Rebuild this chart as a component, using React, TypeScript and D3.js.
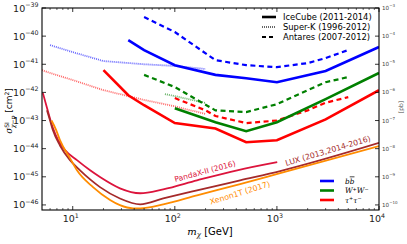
import React from 'react';
import * as d3 from 'd3';

type P = [number, number];

// ---------- indirect detection limits (mass GeV, sigma cm^2) ----------
const icecubeBB: P[] = [[35, 7.2e-41], [50, 3.2e-41], [100, 9.3e-42], [250, 4.2e-42], [500, 3.2e-42], [1000, 2.3e-42], [3000, 5.8e-42], [10000, 4.1e-41]];
const icecubeWW: P[] = [[100, 2.75e-43], [250, 8.7e-44], [500, 4.2e-44], [1000, 8.7e-44], [3000, 5.8e-43], [10000, 4.9e-42]];
const icecubeTT: P[] = [[20, 6.2e-42], [35, 7.9e-43], [50, 3.5e-43], [100, 8.1e-44], [250, 5.2e-44], [500, 1.7e-44], [1000, 2.0e-44], [3000, 1.1e-43], [10000, 1.2e-42]];

const superkBB: P[] = [[6, 4.8e-41], [10, 2.7e-41], [20, 1.3e-41], [50, 1.0e-41], [100, 8.7e-42], [200, 6.8e-42]];
const superkWW: P[] = [[80, 8.7e-43], [100, 7.4e-43], [200, 4.2e-43]];
const superkTT: P[] = [[5, 6.2e-42], [6, 4.9e-42], [10, 2.75e-42], [20, 1.2e-42], [50, 5.4e-43], [100, 3.2e-43], [200, 1.7e-43]];

const antaresBB: P[] = [[50, 4.8e-40], [100, 1.4e-40], [250, 1.4e-41], [500, 9.3e-42], [1000, 7.9e-42], [2000, 1.1e-41], [3000, 1.66e-41], [5000, 3.2e-41]];
const antaresWW: P[] = [[50, 4.2e-42], [100, 1.55e-42], [250, 2.3e-43], [500, 2.0e-43], [1000, 3.8e-43], [2000, 1.2e-42], [3000, 2.3e-42], [5000, 3.5e-42]];
const antaresTT: P[] = [[100, 6.3e-43], [200, 2.3e-43], [250, 1.45e-43], [500, 8.1e-44], [1000, 1.0e-43], [2000, 2.3e-43], [3000, 4.3e-43], [5000, 6.8e-43]];

// ---------- direct detection limits ----------
const pandaX: P[] = [[5.1, 9.5e-43], [5.6, 2.8e-43], [6.4, 5.4e-44], [7.2, 2.0e-44], [8.4, 8.9e-45], [11, 3.9e-45], [14.8, 1.7e-45], [18.5, 9.8e-46], [29, 3.9e-46], [45.7, 2.6e-46], [77, 3.6e-46], [165, 7.5e-46], [408, 1.7e-45], [1007, 3.3e-45]];
const lux: P[] = [[5.6, 2.3e-43], [6.0, 1.0e-43], [6.4, 4.5e-44], [7.5, 1.3e-44], [9.4, 3.9e-45], [11.8, 1.7e-45], [14.8, 8.1e-46], [18.5, 4.3e-46], [29, 1.7e-46], [45.7, 1.05e-46], [77, 1.7e-46], [165, 3.3e-46], [436, 7.5e-46], [1077, 1.6e-45], [10000, 1.6e-44]];
const xenon1T: P[] = [[6.2, 1.0e-43], [6.9, 4.5e-44], [7.5, 2.0e-44], [9.4, 4.6e-45], [11, 1.7e-45], [15.8, 4.3e-46], [23.2, 1.5e-46], [29, 9.8e-47], [39, 7.6e-47], [45.7, 7.6e-47], [77, 1.05e-46], [165, 2.2e-46], [436, 5.5e-46], [1077, 1.35e-45], [10000, 1.23e-44]];

const xMajor = [10, 100, 1000, 10000];
const xMajorExp = ['1', '2', '3', '4'];
const yMajorExp = [-39, -40, -41, -42, -43, -44, -45, -46];
const yRightExp = [-3, -4, -5, -6, -7, -8, -9, -10];

const BLUE = '#0000ff';
const GREEN = '#008000';
const RED = '#ff0000';
const CRIMSON = '#dc143c';
const BROWN = '#a52a2a';
const ORANGE = '#ff8c00';

const FONT = 'DejaVu Sans, sans-serif';
const SERIF = 'DejaVu Serif, serif';

export default function App() {
  const L = 42, R = 379, T = 8, B = 210;
  const x = d3.scaleLog().domain([5, 1e4]).range([L, R]);
  const y = d3.scaleLog().domain([Math.pow(10, -46.18), 1e-39]).range([B, T]);
  const lin = d3.line<P>().x(d => x(d[0])).y(d => y(d[1]));
  const smooth = d3.line<P>().x(d => x(d[0])).y(d => y(d[1])).curve(d3.curveMonotoneX);

  const minors: number[] = [];
  for (const dec of [1, 10, 100, 1000]) {
    for (let k = 2; k <= 9; k++) {
      const v = k * dec;
      if (v > 5 && v < 1e4) minors.push(v);
    }
  }

  const solid = { fill: 'none', strokeWidth: 2.6 };
  const dashed = { fill: 'none', strokeWidth: 2.2, strokeDasharray: '5,3.5' };
  const dotted = { fill: 'none', strokeWidth: 1.8, strokeDasharray: '1,1', strokeOpacity: 0.6 };

  return (
    <svg width={407} height={244} style={{ position: 'absolute', left: 0, top: 0, background: '#fff' }} fontFamily={FONT}>
      <defs>
        <clipPath id="plot"><rect x={L} y={T} width={R - L} height={B - T} /></clipPath>
      </defs>
      <rect x={0} y={0} width={407} height={244} fill="#fff" />
      <g clipPath="url(#plot)">
        {/* direct detection */}
        <path d={smooth(pandaX)!} stroke={CRIMSON} strokeWidth={1.8} fill="none" />
        <path d={smooth(lux)!} stroke={BROWN} strokeWidth={1.8} fill="none" />
        <path d={smooth(xenon1T)!} stroke={ORANGE} strokeWidth={1.8} fill="none" />
        {/* Super-K */}
        <path d={lin(superkBB)!} stroke={BLUE} {...dotted} />
        <path d={lin(superkWW)!} stroke={GREEN} {...dotted} />
        <path d={lin(superkTT)!} stroke={RED} {...dotted} />
        {/* Antares */}
        <path d={lin(antaresBB)!} stroke={BLUE} {...dashed} />
        <path d={lin(antaresWW)!} stroke={GREEN} {...dashed} />
        <path d={lin(antaresTT)!} stroke={RED} {...dashed} />
        {/* IceCube */}
        <path d={lin(icecubeBB)!} stroke={BLUE} {...solid} />
        <path d={lin(icecubeWW)!} stroke={GREEN} {...solid} />
        <path d={lin(icecubeTT)!} stroke={RED} {...solid} />
      </g>

      {/* curve labels */}
      <text transform="translate(205,171.5) rotate(-15)" textAnchor="middle" dominantBaseline="central" fontSize={7.6} fill={CRIMSON}>PandaX-II (2016)</text>
      <text transform="translate(240,193) rotate(-17)" textAnchor="middle" dominantBaseline="central" fontSize={7.8} fill={ORANGE}>Xenon1T (2017)</text>
      <text transform="translate(328,151) rotate(-16.5)" textAnchor="middle" dominantBaseline="central" fontSize={7.8} fill={BROWN}>LUX (2013,2014-2016)</text>

      {/* legend: experiments */}
      {[['IceCube (2011-2014)', 'solid'], ['Super-K (1996-2012)', 'dotted'], ['Antares (2007-2012)', 'dashed']].map((e, i) => {
        const yy = 17 + i * 10;
        const st = e[1] === 'solid' ? { strokeWidth: 2.6 } : e[1] === 'dotted' ? { strokeWidth: 1.8, strokeDasharray: '1,1', strokeOpacity: 0.6 } : { strokeWidth: 2.2, strokeDasharray: '4,3' };
        return (
          <g key={i}>
            <line x1={262} x2={276} y1={yy} y2={yy} stroke="#000" {...st} />
            <text x={283} y={yy} dominantBaseline="central" fontSize={8.4}>{e[0]}</text>
          </g>
        );
      })}

      {/* legend: channels */}
      {[BLUE, GREEN, RED].map((c, i) => (
        <line key={i} x1={320} x2={334} y1={181 + i * 9.5} y2={181 + i * 9.5} stroke={c} strokeWidth={2.6} />
      ))}
      <text x={345} y={183.5} fontSize={7.4} fontFamily={SERIF} fontStyle="italic">b<tspan style={{ textDecoration: 'overline' }}>b</tspan></text>
      <text x={345} y={193} fontSize={7.4} fontFamily={SERIF} fontStyle="italic">W<tspan dy={-2.5} fontSize={5}>+</tspan><tspan dy={2.5}>W</tspan><tspan dy={-2.5} fontSize={5}>−</tspan></text>
      <text x={345} y={202.5} fontSize={7.4} fontFamily={SERIF} fontStyle="italic">τ<tspan dy={-2.5} fontSize={5}>+</tspan><tspan dy={2.5}>τ</tspan><tspan dy={-2.5} fontSize={5}>−</tspan></text>

      {/* frame */}
      <rect x={L} y={T} width={R - L} height={B - T} fill="none" stroke="#000" strokeWidth={1.1} />

      {/* x ticks */}
      {xMajor.map((v, i) => (
        <g key={'xm' + i}>
          <line x1={x(v)} x2={x(v)} y1={B} y2={B - 4} stroke="#000" strokeWidth={0.8} />
          <line x1={x(v)} x2={x(v)} y1={T} y2={T + 4} stroke="#000" strokeWidth={0.8} />
          <text x={x(v) - 2} y={222} textAnchor="middle" fontSize={9.5} fill="#222">10<tspan dy={-4} fontSize={6.3}>{xMajorExp[i]}</tspan></text>
        </g>
      ))}
      {minors.map((v, i) => (
        <g key={'xn' + i}>
          <line x1={x(v)} x2={x(v)} y1={B} y2={B - 2} stroke="#000" strokeWidth={0.6} />
          <line x1={x(v)} x2={x(v)} y1={T} y2={T + 2} stroke="#000" strokeWidth={0.6} />
        </g>
      ))}

      {/* y ticks left */}
      {yMajorExp.map((e, i) => {
        const yy = y(Math.pow(10, e));
        return (
          <g key={'y' + i}>
            <line x1={L} x2={L + 4} y1={yy} y2={yy} stroke="#000" strokeWidth={0.8} />
            <line x1={R} x2={R - 4} y1={yy} y2={yy} stroke="#000" strokeWidth={0.8} />
            <text x={38.5} y={yy + 3.5} textAnchor="end" fontSize={9.5} fill="#222">10<tspan dy={-4.5} fontSize={6.3}>{'−' + Math.abs(e)}</tspan></text>
            <text x={382} y={yy + 2} textAnchor="start" fontSize={5.6} fill="#444">10<tspan dy={-3} fontSize={4}>{'−' + Math.abs(yRightExp[i])}</tspan></text>
          </g>
        );
      })}

      {/* axis labels */}
      <text x={210} y={235} textAnchor="middle" fontSize={10}>
        <tspan fontFamily={SERIF} fontStyle="italic">m</tspan><tspan fontFamily={SERIF} fontStyle="italic" fontSize={7} dy={2}>χ</tspan><tspan dy={-2}> [GeV]</tspan>
      </text>
      <text transform="translate(12,111) rotate(-90)" textAnchor="middle" fontSize={9}>
        <tspan fontFamily={SERIF} fontStyle="italic">σ</tspan><tspan fontSize={6} dy={-3.5}>SI</tspan><tspan fontSize={6} fontFamily={SERIF} fontStyle="italic" dx={-6} dy={6.5}>χ−p</tspan><tspan dy={-3}> [cm</tspan><tspan fontSize={6} dy={-3.5}>2</tspan><tspan dy={3.5}>]</tspan>
      </text>
      <text transform="translate(403,107) rotate(-90)" textAnchor="middle" fontSize={6} fill="#444">[pb]</text>
    </svg>
  );
}
